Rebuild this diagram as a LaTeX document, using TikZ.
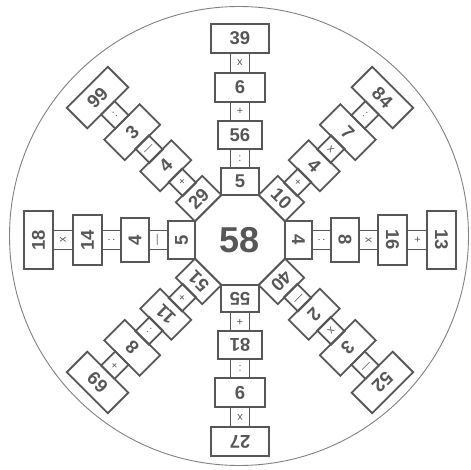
\documentclass[tikz,border=0pt]{standalone}
\usepackage{fontspec}
\setsansfont{Liberation Sans}
\usetikzlibrary{shapes.geometric}

\begin{document}
\begin{tikzpicture}[
  x=1pt,
  y=1pt,
  font=\sffamily\bfseries\fontsize{18.5}{22}\selectfont,
  rim/.style={draw=pzgray!75,line width=0.9pt},
  hub/.style={regular polygon,regular polygon sides=8,draw=pzgray,
    line width=1.8pt,minimum size=97.4pt,inner sep=0pt,text=pzgray,
    font=\sffamily\bfseries\fontsize{36}{40}\selectfont},
  numbox/.style={rectangle,draw=pzgray,line width=1.8pt,inner sep=0pt,
    text=pzgray,transform shape},
  opbox/.style={rectangle,draw=pzgray,line width=1.8pt,inner sep=0pt,
    text=pzgray,minimum width=19pt,minimum height=20pt,transform shape,
    font=\sffamily\fontsize{11}{13}\selectfont}
]
  \definecolor{pzgray}{HTML}{575757}

  \useasboundingbox (-240,-229) rectangle (231,240);
  \draw[rim] (-1,4) circle[radius=229.5];

  \node[hub] (hub) at (0,0) {58};

  % one arm per side of the octagon, read from the rim inwards
  \foreach \ang/\na/\oa/\nb/\ob/\nc/\oc/\nd [count=\k] in {
      90/5/:/56/+/6/x/39, 45/10/+/4/x/7/:/84, 0/4/:/8/x/16/+/13,
      -45/40/—/2/x/3/—/52, -90/55/+/81/:/9/x/27, -135/51/+/11/:/8/+/69,
      180/5/—/4/:/14/x/18, 135/29/+/4/—/3/:/99}
  {
    \begin{scope}[rotate=\ang-90]
      \node[numbox,minimum width=37.3pt,minimum height=27pt]
        (arm\k-1) at (0,58.5) {\na};
      \node[opbox] (arm\k-op1) at (0,81.5) {\oa};
      \node[numbox,minimum width=44pt,minimum height=28pt]
        (arm\k-2) at (0,105) {\nb};
      \node[opbox] (arm\k-op2) at (0,128.5) {\ob};
      \node[numbox,minimum width=50pt,minimum height=29pt]
        (arm\k-3) at (0,152.5) {\nc};
      \node[opbox] (arm\k-op3) at (0,177) {\oc};
      \node[numbox,minimum width=58pt,minimum height=29pt]
        (arm\k-4) at (0,201.5) {\nd};
    \end{scope}
  }
\end{tikzpicture}
\end{document}
